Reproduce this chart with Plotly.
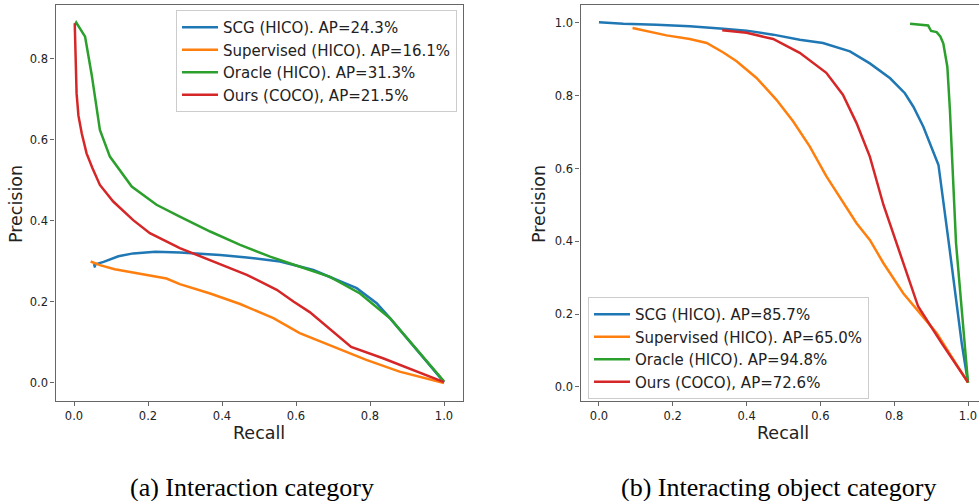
import plotly.graph_objects as go

# ---------------- data ----------------
names_a = ["SCG (HICO). AP=24.3%", "Supervised (HICO). AP=16.1%",
           "Oracle (HICO). AP=31.3%", "Ours (COCO), AP=21.5%"]
names_b = ["SCG (HICO). AP=85.7%", "Supervised (HICO). AP=65.0%",
           "Oracle (HICO). AP=94.8%", "Ours (COCO), AP=72.6%"]
colors = ["#1f77b4", "#ff7f0e", "#2ca02c", "#d62728"]

# (a) Interaction category
scg_a_x = [0.057, 0.055, 0.062, 0.08, 0.12, 0.16, 0.22, 0.286, 0.395, 0.467, 0.557, 0.647, 0.701, 0.764, 0.818, 0.854, 1.0]
scg_a_y = [0.285, 0.291, 0.294, 0.299, 0.313, 0.32, 0.324, 0.322, 0.316, 0.31, 0.30, 0.279, 0.258, 0.234, 0.197, 0.16, 0.002]
sup_a_x = [0.045, 0.07, 0.11, 0.17, 0.25, 0.286, 0.368, 0.449, 0.539, 0.61, 0.70, 0.79, 0.88, 1.0]
sup_a_y = [0.300, 0.291, 0.281, 0.271, 0.258, 0.244, 0.221, 0.195, 0.16, 0.123, 0.090, 0.057, 0.028, 0.0]
ora_a_x = [0.003, 0.006, 0.03, 0.048, 0.07, 0.097, 0.156, 0.223, 0.286, 0.368, 0.449, 0.53, 0.611, 0.692, 0.773, 0.854, 1.0]
ora_a_y = [0.885, 0.89, 0.855, 0.76, 0.625, 0.559, 0.485, 0.44, 0.411, 0.374, 0.341, 0.312, 0.287, 0.262, 0.221, 0.16, 0.004]
our_a_x = [0.002, 0.004, 0.007, 0.012, 0.021, 0.034, 0.05, 0.07, 0.106, 0.16, 0.205, 0.286, 0.377, 0.467, 0.548, 0.593, 0.637, 0.70, 0.749, 0.835, 1.0]
our_a_y = [0.888, 0.80, 0.715, 0.66, 0.616, 0.567, 0.53, 0.489, 0.448, 0.402, 0.37, 0.333, 0.30, 0.267, 0.23, 0.201, 0.175, 0.127, 0.089, 0.061, 0.002]

# (b) Interacting object category
scg_b_x = [0.0, 0.066, 0.156, 0.246, 0.337, 0.40, 0.472, 0.544, 0.607, 0.68, 0.734, 0.789, 0.829, 0.852, 0.879, 0.92, 0.95, 0.983, 1.0]
scg_b_y = [1.002, 0.998, 0.995, 0.991, 0.984, 0.979, 0.968, 0.954, 0.945, 0.922, 0.889, 0.848, 0.807, 0.77, 0.715, 0.61, 0.38, 0.12, 0.012]
sup_b_x = [0.091, 0.129, 0.183, 0.246, 0.292, 0.337, 0.373, 0.427, 0.481, 0.526, 0.571, 0.616, 0.652, 0.698, 0.734, 0.771, 0.825, 0.915, 1.0]
sup_b_y = [0.986, 0.977, 0.966, 0.956, 0.945, 0.919, 0.895, 0.849, 0.789, 0.73, 0.661, 0.579, 0.524, 0.45, 0.404, 0.34, 0.257, 0.148, 0.012]
ora_b_x = [0.843, 0.874, 0.892, 0.90, 0.915, 0.925, 0.933, 0.944, 0.951, 0.9675, 0.99, 1.0]
ora_b_y = [0.998, 0.995, 0.993, 0.978, 0.975, 0.963, 0.944, 0.88, 0.761, 0.396, 0.12, 0.012]
our_b_x = [0.334, 0.40, 0.472, 0.544, 0.616, 0.661, 0.698, 0.734, 0.771, 0.825, 0.865, 0.929, 1.0]
our_b_y = [0.98, 0.973, 0.956, 0.918, 0.863, 0.803, 0.725, 0.633, 0.50, 0.34, 0.221, 0.12, 0.013]

captions = ["(a) Interaction category", "(b) Interacting object category"]
x_label = "Recall"
y_label = "Precision"

# ---------------- figure ----------------
W, H = 979, 501
fig = go.Figure()

series_a = [(scg_a_x, scg_a_y), (sup_a_x, sup_a_y), (ora_a_x, ora_a_y), (our_a_x, our_a_y)]
series_b = [(scg_b_x, scg_b_y), (sup_b_x, sup_b_y), (ora_b_x, ora_b_y), (our_b_x, our_b_y)]

for (xs, ys), nm, c in zip(series_a, names_a, colors):
    fig.add_trace(go.Scatter(x=xs, y=ys, mode="lines", name=nm,
                             line=dict(color=c, width=2.5),
                             xaxis="x", yaxis="y", legend="legend"))
for (xs, ys), nm, c in zip(series_b, names_b, colors):
    fig.add_trace(go.Scatter(x=xs, y=ys, mode="lines", name=nm,
                             line=dict(color=c, width=2.5),
                             xaxis="x2", yaxis="y2", legend="legend2"))

tickfont = dict(family="DejaVu Sans", size=11.5, color="#222")
spine = "#666"
ydom = [1 - 401 / H, 1 - 4.5 / H]

common_x = dict(showgrid=False, zeroline=False, showline=True, linecolor=spine, linewidth=1.3,
                ticks="outside", ticklen=4, tickwidth=1, tickcolor=spine,
                tickfont=tickfont, dtick=0.2, tick0=0, tickformat=".1f")
common_y = dict(common_x)

fig.update_layout(
    width=W, height=H,
    margin=dict(l=0, r=0, t=0, b=0),
    paper_bgcolor="white", plot_bgcolor="white",
    xaxis=dict(common_x, domain=[55.5 / W, 462.5 / W], range=[-0.05, 1.05], mirror=True, anchor="y"),
    yaxis=dict(common_y, domain=ydom, range=[-0.0445, 0.9345], mirror=True, anchor="x"),
    xaxis2=dict(common_x, domain=[580.5 / W, 1.0], range=[-0.05, 1.0298], mirror=True, anchor="y2"),
    yaxis2=dict(common_y, domain=ydom, range=[-0.0385, 1.0508], mirror=False, anchor="x2"),
    legend=dict(x=176 / W, y=1 - 10 / H, xanchor="left", yanchor="top",
                bgcolor="rgba(255,255,255,0.8)", bordercolor="#cccccc", borderwidth=1,
                font=dict(family="DejaVu Sans", size=15, color="#222"), itemwidth=36),
    legend2=dict(x=588 / W, y=1 - 297 / H, xanchor="left", yanchor="top",
                 bgcolor="rgba(255,255,255,0.8)", bordercolor="#cccccc", borderwidth=1,
                 font=dict(family="DejaVu Sans", size=15, color="#222"), itemwidth=36),
    showlegend=True,
)

ann = []
for cx in (259, 783):
    ann.append(dict(text=x_label, x=cx / W, y=1 - 433 / H, xref="paper", yref="paper",
                    showarrow=False, xanchor="center", yanchor="middle",
                    font=dict(family="DejaVu Sans", size=17.5, color="#222")))
for cx in (16, 539):
    ann.append(dict(text=y_label, x=cx / W, y=1 - 204 / H, xref="paper", yref="paper",
                    showarrow=False, xanchor="center", yanchor="middle", textangle=-90,
                    font=dict(family="DejaVu Sans", size=17.5, color="#222")))
for txt, cx in zip(captions, (252, 778)):
    ann.append(dict(text=txt, x=cx / W, y=1 - 487 / H, xref="paper", yref="paper",
                    showarrow=False, xanchor="center", yanchor="middle",
                    font=dict(family="Liberation Serif", size=26, color="black")))
fig.update_layout(annotations=ann)

fig.write_html("out.html", config={"displayModeBar": False},
               post_script="document.body.style.margin='0';document.body.style.overflow='hidden';")
